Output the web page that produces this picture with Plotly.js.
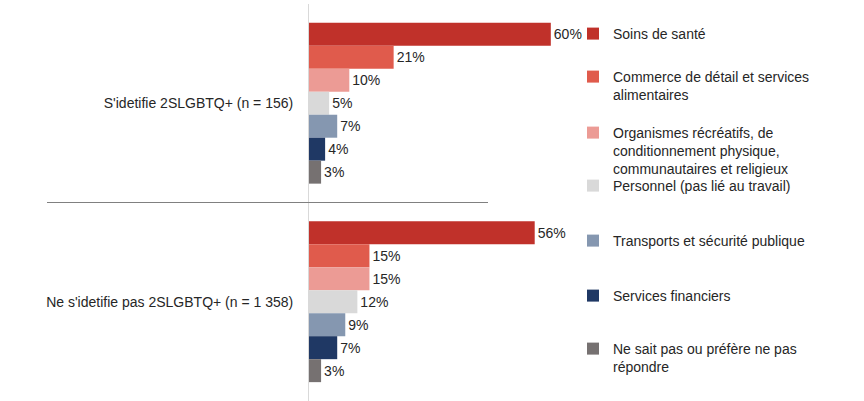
<!DOCTYPE html>
<html><head><meta charset="utf-8">
<script src="https://cdn.plot.ly/plotly-3.0.1.min.js"></script>
<style>html,body{margin:0;padding:0;background:#fff}#chart{width:864px;height:401px}</style>
</head><body><div id="chart"></div>
<script>
const categories = ["S'idetifie 2SLGBTQ+ (n = 156)", "Ne s'idetifie pas 2SLGBTQ+ (n = 1 358)"];
const seriesNames = [
  "Soins de santé",
  "Commerce de détail et services<br>alimentaires",
  "Organismes récréatifs, de<br>conditionnement physique,<br>communautaires et religieux",
  "Personnel (pas lié au travail)",
  "Transports et sécurité publique",
  "Services financiers",
  "Ne sait pas ou préfère ne pas<br>répondre"
];
const soinsSante = [60, 56];
const commerce = [21, 15];
const organismes = [10, 15];
const personnel = [5, 12];
const transports = [7, 9];
const financiers = [4, 7];
const neSaitPas = [3, 3];
const seriesValues = [soinsSante, commerce, organismes, personnel, transports, financiers, neSaitPas];
const colors = ["#C0312A", "#E05B4C", "#EC9B95", "#D9D9D9", "#8597B0", "#1F3864", "#767171"];

// legend first-line centre positions (pixels) -> paper coordinates
const legendPix = [33, 76, 132, 185, 240, 295, 348];
const plotTop = 4, plotH = 397;
const font = {family: "Liberation Sans, Arial, sans-serif", size: 14, color: "#262626"};

const traces = seriesValues.map((vals, i) => ({
  type: 'bar', orientation: 'h',
  name: seriesNames[i],
  y: categories, x: vals,
  marker: {color: colors[i]},
  text: vals.map(v => v + '%'),
  textposition: 'outside',
  textfont: font,
  cliponaxis: false,
  hoverinfo: 'none',
  showlegend: true,
  legend: i === 0 ? 'legend' : 'legend' + (i + 1)
}));

const layout = {
  width: 864, height: 401,
  margin: {l: 309, r: 289, t: plotTop, b: 0, pad: 0},
  paper_bgcolor: '#fff', plot_bgcolor: '#fff',
  font: font, showlegend: true,
  barmode: 'group', bargap: 0.19, bargroupgap: 0,
  xaxis: {range: [0, 66], visible: false, fixedrange: true},
  yaxis: {autorange: 'reversed', showline: true, linecolor: '#D9D9D9', linewidth: 1,
          ticks: '', showgrid: false, zeroline: false, ticklabelstandoff: 12,
          tickfont: font, fixedrange: true},
  shapes: [{type: 'line', xref: 'paper', yref: 'y', x0: (47 - 309) / 266, x1: (488 - 309) / 266,
            y0: 0.5, y1: 0.5, line: {color: '#808080', width: 1}}]
};
legendPix.forEach((p, i) => {
  const key = i === 0 ? 'legend' : 'legend' + (i + 1);
  layout[key] = {
    x: (573 - 309) / 266, xanchor: 'left',
    y: 1 - (p - 15 - plotTop) / plotH, yanchor: 'top',
    bgcolor: 'rgba(0,0,0,0)', borderwidth: 0, font: font, valign: 'top',
    tracegroupgap: 0, visible: true
  };
});
Plotly.newPlot('chart', traces, layout, {displayModeBar: false, staticPlot: true});
</script></body></html>
